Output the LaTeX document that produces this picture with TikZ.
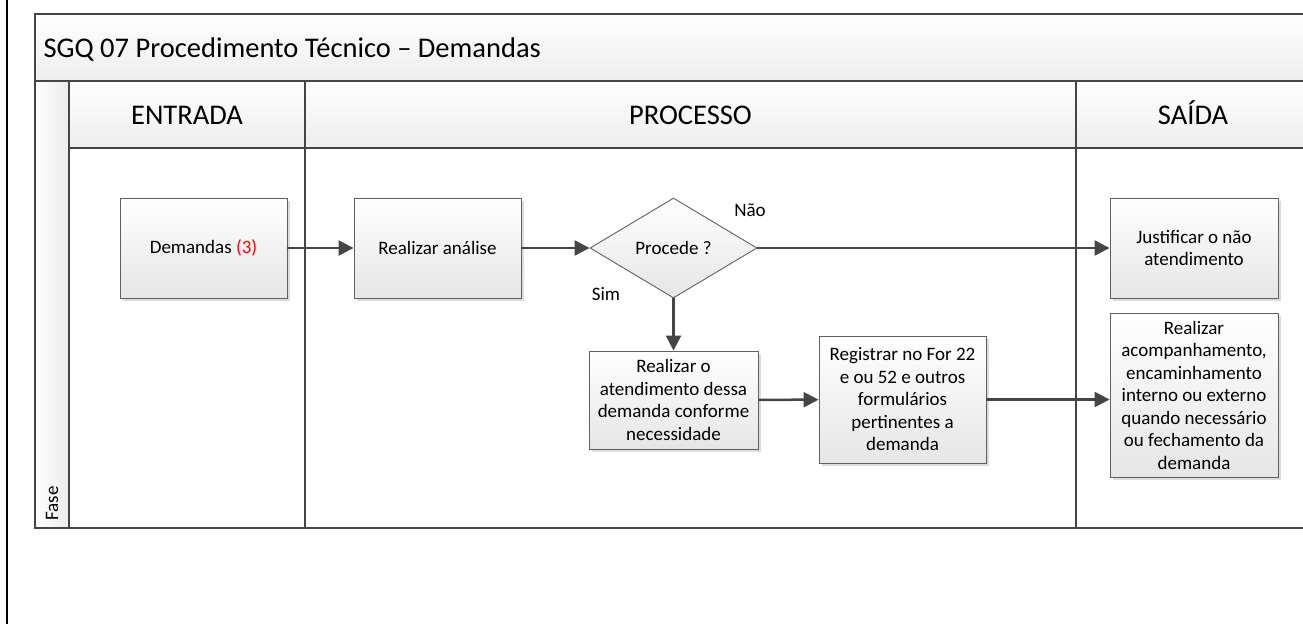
\documentclass[tikz,border=0pt]{standalone}
\usepackage{fontspec}
\setmainfont{Carlito}
\usetikzlibrary{arrows.meta,shapes.geometric,shadows,positioning}
\definecolor{linegray}{HTML}{454545}
\definecolor{boxgray}{HTML}{606060}
\definecolor{shadegray}{HTML}{E6E6E6}
\definecolor{numred}{HTML}{FF0000}
\tikzset{
  poolline/.style={draw=linegray,line width=2pt},
  bandfill/.style={top color=white,bottom color=shadegray!70},
  stepbox/.style={draw=boxgray,line width=0.9pt,top color=white,bottom color=shadegray,
    align=center,inner sep=2pt,font=\fontsize{19}{22.5}\selectfont,
    drop shadow={shadow xshift=3pt,shadow yshift=-3pt,fill=black!30,opacity=.45}},
  decision/.style={diamond,aspect=1.67,draw=boxgray,line width=0.9pt,top color=white,
    bottom color=shadegray,inner sep=0pt,minimum width=167pt,minimum height=100pt,
    font=\fontsize{19}{22.5}\selectfont},
  lbl/.style={font=\fontsize{19}{22.5}\selectfont},
  head/.style={font=\fontsize{28.5}{33}\selectfont,anchor=base},
  flow/.style={draw=linegray,line width=2.5pt,-{Triangle[length=15pt,width=15pt]}},
}
\begin{document}
\begin{tikzpicture}[x=1pt,y=-1pt]
  \useasboundingbox (0,0) rectangle (1303,624);
  \fill[white] (0,0) rectangle (1303,624);
  \draw[line width=2.5pt] (7,0) -- (7,624);
  % pool
  \path[poolline,bandfill] (35,14) rectangle (1312,81);
  \node[head,anchor=base west] (title) at (40,57) {SGQ 07 Procedimento Técnico – Demandas};
  \path[poolline,left color=white,right color=shadegray!80] (35,81) rectangle (69,528);
  \node[lbl,rotate=90,anchor=west] (fase) at (52,524) {Fase};
  \path[poolline,bandfill] (69,81) rectangle (305,148);
  \path[poolline,bandfill] (305,81) rectangle (1076,148);
  \path[poolline,bandfill] (1076,81) rectangle (1312,148);
  \draw[poolline] (69,148) rectangle (305,528);
  \draw[poolline] (305,148) rectangle (1076,528);
  \draw[poolline] (1076,148) rectangle (1312,528);
  \node[head] (entrada) at (187,124) {ENTRADA};
  \node[head] (processo) at (690.5,124) {PROCESSO};
  \node[head] (saida) at (1193,124) {SAÍDA};
  % steps
  \node[stepbox,minimum width=167pt,minimum height=100pt] (dem) at (203.5,248)
    {Demandas \textcolor{numred}{(3)}};
  \node[stepbox,minimum width=167pt,minimum height=100pt] (ana) at (437.5,248)
    {Realizar análise};
  \node[decision] (dec) at (673.5,248) {Procede ?};
  \node[stepbox,minimum width=168pt,minimum height=100pt] (jus) at (1194,248)
    {Justificar o não\\atendimento};
  \node[stepbox,minimum width=169pt,minimum height=98pt] (ate) at (673.5,400)
    {Realizar o\\atendimento dessa\\demanda conforme\\necessidade};
  \node[stepbox,minimum width=167pt,minimum height=127pt] (reg) at (902.5,399.5)
    {Registrar no For 22\\e ou 52 e outros\\formulários\\pertinentes a\\demanda};
  \node[stepbox,minimum width=168pt,minimum height=164pt] (aco) at (1194,395)
    {Realizar\\acompanhamento,\\encaminhamento\\interno ou externo\\quando necessário\\ou fechamento da\\demanda};
  \node[lbl] (nao) at (750,210) {Não};
  \node[lbl] (sim) at (606,294) {Sim};
  % flows
  \draw[flow] (dem) -- (ana);
  \draw[flow] (ana) -- (dec);
  \draw[flow] (dec) -- (jus);
  \draw[flow] (dec) -- (ate);
  \draw[flow] (ate) -- (reg);
  \draw[flow] (reg) -- (reg -| aco.west);
\end{tikzpicture}
\end{document}
